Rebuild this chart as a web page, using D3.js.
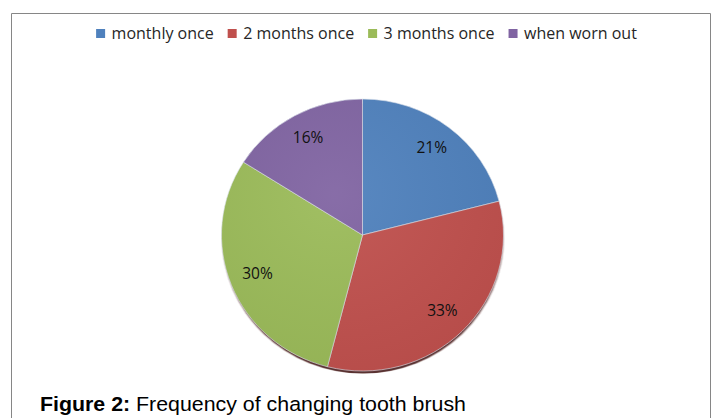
<!DOCTYPE html>
<html><head><meta charset="utf-8">
<script src="https://cdn.jsdelivr.net/npm/d3@7"></script>
<style>html,body{margin:0;padding:0;background:#fff;}svg{display:block;}</style>
</head><body>
<svg id="c" width="715" height="418"></svg>
<script>
const categories = ["monthly once", "2 months once", "3 months once", "when worn out"];
const values = [21, 33, 30, 16];
const labels = ["21%", "33%", "30%", "16%"];
const colors = ["#4F81BD", "#C0504D", "#9BBB59", "#8064A2"];
const caption = {bold: "Figure 2:", rest: " Frequency of changing tooth brush"};

const svg = d3.select("#c");
// frame
svg.append("path").attr("d", "M11.5,430 V13.5 H710.5 V430")
  .attr("fill", "none").attr("stroke", "#868686").attr("stroke-width", 1);

const cx = 362.5, cy = 235, rx = 141, ry = 136;
const sy = ry / rx;
const defs = svg.append("defs");
const f = defs.append("filter").attr("id", "blur").attr("x", "-10%").attr("y", "-10%").attr("width", "120%").attr("height", "120%");
f.append("feGaussianBlur").attr("stdDeviation", 0.8);
const rg = defs.append("radialGradient").attr("id", "shine").attr("cx", "40%").attr("cy", "35%").attr("r", "75%");
rg.append("stop").attr("offset", "0%").attr("stop-color", "#fff").attr("stop-opacity", 0.06);
rg.append("stop").attr("offset", "100%").attr("stop-color", "#000").attr("stop-opacity", 0.05);

const pie = d3.pie().sort(null).value(d => d)(values);
const arc = d3.arc().innerRadius(0).outerRadius(rx);
const labelArc = d3.arc().innerRadius(113).outerRadius(113);

// shadow
svg.append("g").attr("transform", `translate(${cx + 0.5},${cy + 3.5}) scale(1,${sy})`)
  .append("circle").attr("r", rx - 1).attr("fill", "#4a1f1c").attr("opacity", 0.9).attr("filter", "url(#blur)");

const g = svg.append("g").attr("transform", `translate(${cx},${cy}) scale(1,${sy})`);
g.selectAll("path.s").data(pie).join("path").attr("class", "s")
  .attr("d", arc).attr("fill", (d, i) => colors[i])
  .attr("stroke", "#dde4ee").attr("stroke-width", 0.8).attr("stroke-opacity", 0.8);
g.append("circle").attr("r", rx).attr("fill", "url(#shine)");

// labels
svg.append("g").selectAll("text").data(pie).join("text")
  .attr("x", d => cx + labelArc.centroid(d)[0])
  .attr("y", d => cy + labelArc.centroid(d)[1] * sy - 2)
  .attr("text-anchor", "middle").attr("dominant-baseline", "central")
  .attr("font-family", "'Open Sans', sans-serif").attr("font-size", 15.5)
  .attr("fill", "#111").text((d, i) => labels[i]);

// legend
const lg = svg.append("g");
const items = lg.selectAll("g").data(categories).join("g");
items.append("rect").attr("width", 9).attr("height", 9).attr("y", -10).attr("fill", (d, i) => colors[i]);
items.append("text").attr("x", 15.5).attr("y", 0)
  .attr("font-family", "'Open Sans', sans-serif").attr("font-size", 16)
  .attr("fill", "#262626").text(d => d);
let x = 0;
const pos = [];
items.each(function () {
  const w = d3.select(this).select("text").node().getComputedTextLength();
  pos.push(x);
  x += 15.5 + w + 14;
});
const total = x - 14;
const start = 366.5 - total / 2;
items.attr("transform", (d, i) => `translate(${start + pos[i]},39)`);

// caption
const cap = svg.append("text").attr("x", 40).attr("y", 411)
  .attr("font-family", "'Liberation Sans', Arial, sans-serif").attr("font-size", 20.5).attr("fill", "#000")
  .attr("textLength", 426).attr("lengthAdjust", "spacingAndGlyphs");
cap.append("tspan").attr("font-weight", "bold").text(caption.bold);
cap.append("tspan").text(caption.rest);
</script>
</body></html>
